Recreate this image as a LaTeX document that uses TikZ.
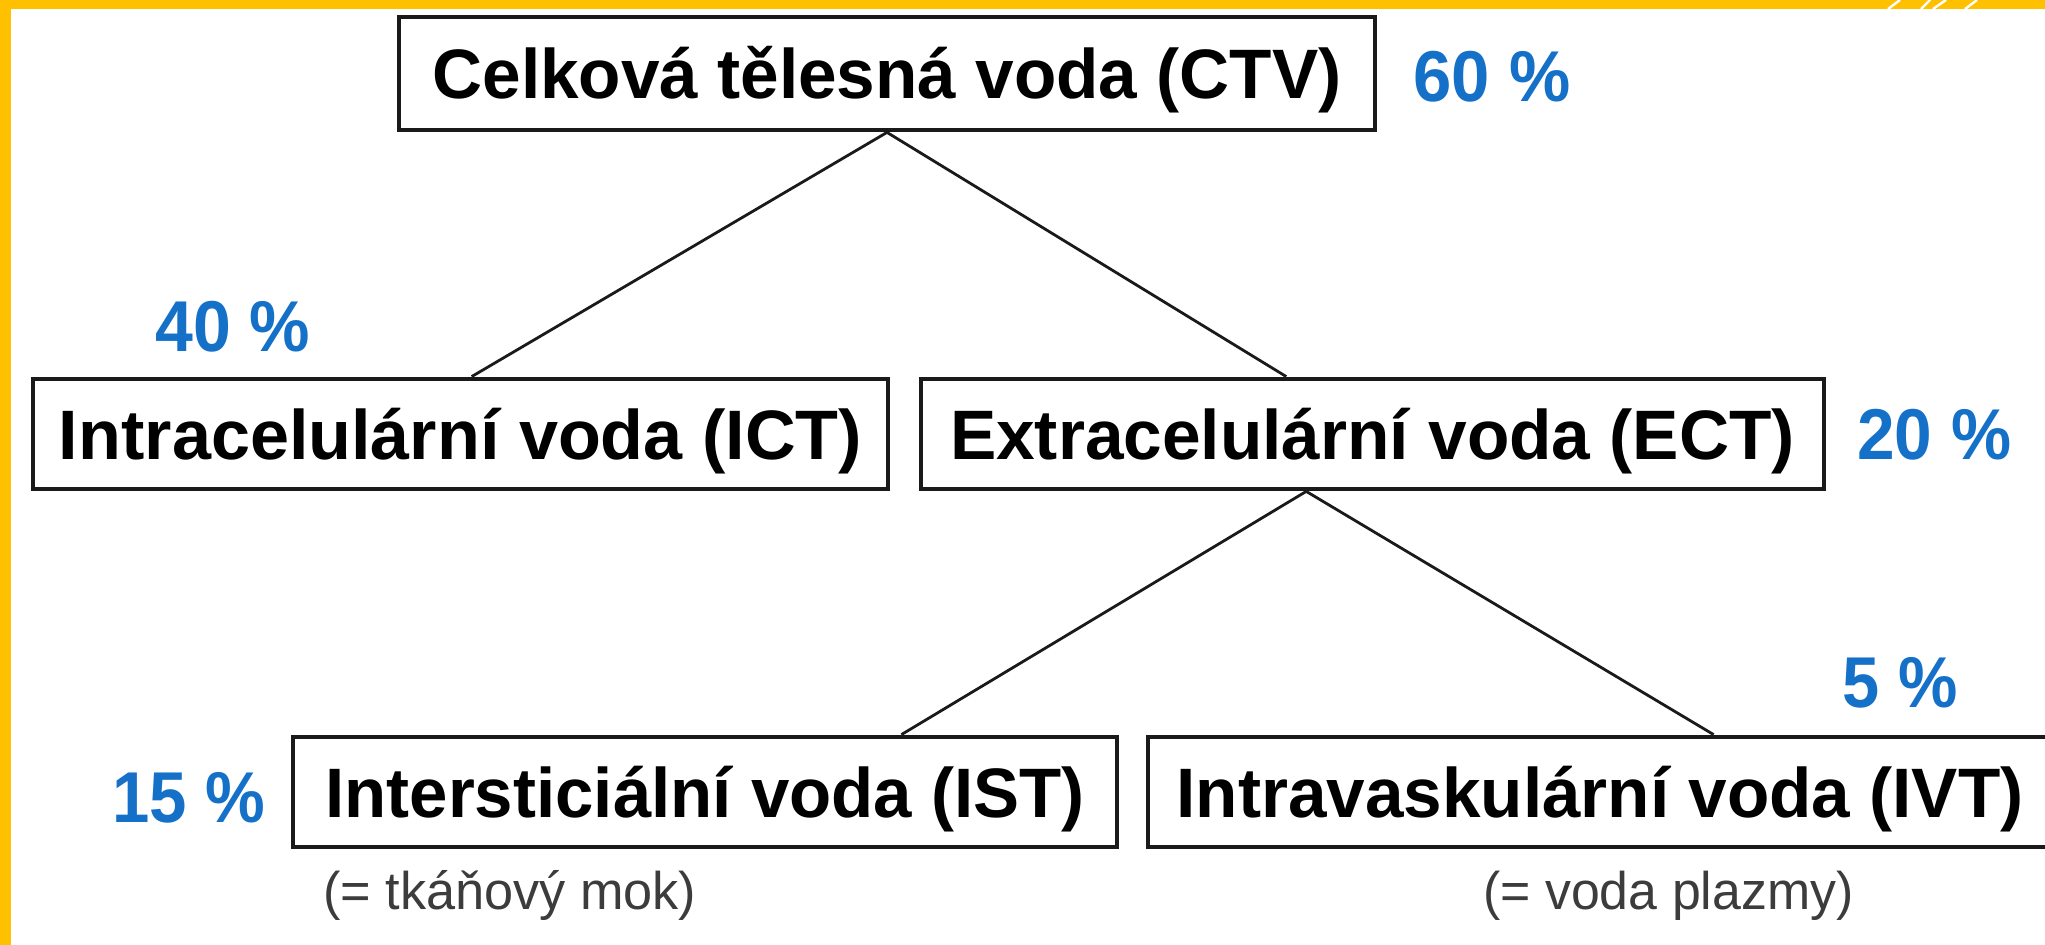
\documentclass[tikz,border=0pt]{standalone}
\usepackage{fontspec}
\setmainfont{Liberation Sans}
\usetikzlibrary{calc}
\definecolor{framecol}{HTML}{FFC000}
\definecolor{pctcol}{HTML}{1570C8}
\definecolor{ink}{HTML}{1A1A1A}
\newcommand{\boxtxt}[2]{\resizebox{#1pt}{\height}{\fontsize{35}{40}\selectfont\bfseries #2}}
\newcommand{\pcttxt}[2]{\resizebox{#1pt}{\height}{\fontsize{36}{40}\selectfont\bfseries #2}}
\newcommand{\subtxt}[2]{\resizebox{#1pt}{\height}{\fontsize{26.5}{30}\selectfont #2}}
\tikzset{
  waterbox/.style={draw=ink, line width=2.4pt, fill=white, inner sep=0pt, anchor=center,
    text=black, text height=25.06pt, text depth=0pt, minimum height=55pt},
  pctlabel/.style={text=pctcol, inner sep=0pt, anchor=base west},
  subnote/.style={text=ink!85, inner sep=0pt, anchor=base west},
  link/.style={draw=ink, line width=1.4pt},
  slash/.style={draw=white, line width=1.2pt}
}
\begin{document}
\begin{tikzpicture}[x=0.5pt,y=-0.5pt]
\fill[white] (0,0) rectangle (2045,945);
\useasboundingbox (0,0) rectangle (2045,945);
% frame
\fill[framecol] (0,0) rectangle (11,945);
\fill[framecol] (0,0) rectangle (2045,9);
\draw[slash] (1888,9) -- (1900,0);
\draw[slash] (1921,9) -- (1930,0);
\draw[slash] (1933,9) -- (1946,0);
\draw[slash] (1965,9) -- (1977,0);
% boxes
\node[waterbox, minimum width=488pt, minimum height=56.5pt] (ctv) at (887,73.5) {\boxtxt{454.5}{Celková tělesná voda (CTV)}};
\node[waterbox, minimum width=427.5pt] (ict) at (460.5,434) {\boxtxt{401.5}{Intracelulární voda (ICT)}};
\node[waterbox, minimum width=451.5pt] (ect) at (1372.5,434) {\boxtxt{422.5}{Extracelulární voda (ECT)}};
\node[waterbox, minimum width=412pt] (ist) at (705,792) {\boxtxt{379.5}{Intersticiální voda (IST)}};
\node[waterbox, minimum width=452pt] (ivt) at (1600,792) {\boxtxt{423.5}{Intravaskulární voda (IVT)}};
% connectors
\draw[link] (ctv.south) -- ($(ict.north west)!0.513!(ict.north east)$);
\draw[link] (ctv.south) -- ($(ect.north west)!0.405!(ect.north east)$);
\coordinate (ectapex) at ($(ect.south west)!0.427!(ect.south east)$);
\draw[link] (ectapex) -- ($(ist.north west)!0.737!(ist.north east)$);
\draw[link] (ectapex) -- ($(ivt.north west)!0.625!(ivt.north east)$);
% percentages
\node[pctlabel] (p60) at (1413,102) {\pcttxt{78.5}{60 \%}};
\node[pctlabel] (p40) at (155,352) {\pcttxt{77.5}{40 \%}};
\node[pctlabel] (p20) at (1857,460) {\pcttxt{77}{20 \%}};
\node[pctlabel] (p5) at (1842,708) {\pcttxt{57.5}{5 \%}};
\node[pctlabel] (p15) at (112,822) {\pcttxt{76.5}{15 \%}};
% notes
\node[subnote] (n1) at (323,909) {\subtxt{186.5}{(= tkáňový mok)}};
\node[subnote] (n2) at (1483,909) {\subtxt{185}{(= voda plazmy)}};
\end{tikzpicture}
\end{document}
